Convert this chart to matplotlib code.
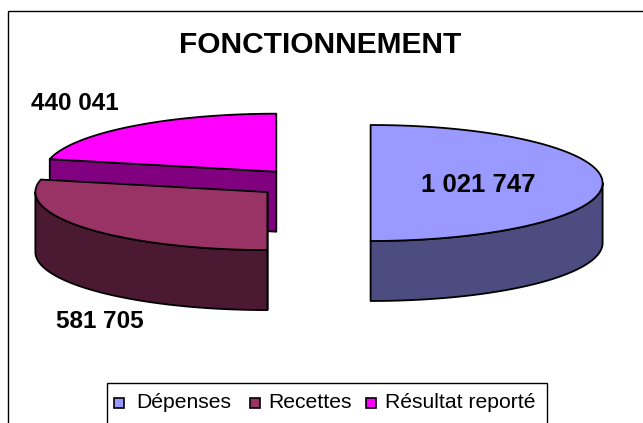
import numpy as np
import matplotlib.pyplot as plt
from matplotlib.patches import Polygon, Rectangle

plt.rcParams['font.family'] = ['Liberation Sans', 'DejaVu Sans']

# data
categories = ["Dépenses", "Recettes", "Résultat reporté"]
values = [1021747, 581705, 440041]
top_colors = ["#9999FF", "#993366", "#FF00FF"]
side_colors = ["#4C4C80", "#4C1933", "#800080"]
title = "FONCTIONNEMENT"

# layout in pixel coordinates
W, H = 643, 423
cx, cy = 312.6, 183.0      # centre of the (unexploded) pie top
a, b = 232.0, 58.0         # ellipse radii
depth = 60.0
explode = 0.25
label_pos = [(478, 185), (100, 322), (75, 103)]
label_size = [18.5, 17.5, 17.5]

fig = plt.figure(figsize=(W / 100, H / 100), dpi=100)
ax = fig.add_axes([0, 0, 1, 1])
ax.set_xlim(0, W)
ax.set_ylim(H, 0)
ax.axis("off")

# chart frame (runs off the right / bottom edge)
ax.add_patch(Rectangle((7.5, 11), 700, 500, fill=False, ec="black", lw=1.0))

ax.text(320, 45, title, ha="center", va="center", fontsize=21.5,
        fontweight="bold")


def pt(x0, y0, t, dz=0.0):
    return (x0 + a * np.cos(t), y0 - b * np.sin(t) + dz)


fr = np.array(values) / sum(values)
ends = 90 - 360 * np.cumsum(fr)
starts = np.concatenate([[90], ends[:-1]])

slices = []
for i in range(len(values)):
    ts, te = np.radians(starts[i]), np.radians(ends[i])
    tm = 0.5 * (ts + te)
    x0 = cx + explode * a * np.cos(tm)
    y0 = cy - explode * b * np.sin(tm)
    slices.append((y0, i, x0, ts, te))

lw = 1.3
for y0, i, x0, ts, te in sorted(slices):
    # visible radial cut faces
    for t, n in ((ts, ts + np.pi / 2), (te, te - np.pi / 2)):
        if np.sin(n) < -1e-6:
            px, py = pt(x0, y0, t)
            poly = [(x0, y0), (px, py), (px, py + depth), (x0, y0 + depth)]
            ax.add_patch(Polygon(poly, closed=True, fc=side_colors[i],
                                 ec="black", lw=lw, joinstyle="round"))
    # outer curved side (front half only)
    for k in (0, -1):
        lo = max(te, -np.pi + 2 * np.pi * k)
        hi = min(ts, 0 + 2 * np.pi * k)
        if hi - lo > 1e-6:
            tt = np.linspace(lo, hi, 80)
            upper = [pt(x0, y0, t) for t in tt]
            lower = [pt(x0, y0, t, depth) for t in tt[::-1]]
            ax.add_patch(Polygon(upper + lower, closed=True,
                                 fc=side_colors[i], ec="black", lw=lw,
                                 joinstyle="round"))
    # top face
    tt = np.linspace(ts, te, 120)
    poly = [(x0, y0)] + [pt(x0, y0, t) for t in tt]
    ax.add_patch(Polygon(poly, closed=True, fc=top_colors[i], ec="black",
                         lw=lw, joinstyle="round"))

for i, v in enumerate(values):
    lx, ly = label_pos[i]
    ax.text(lx, ly, f"{v:,}".replace(",", " "), ha="center", va="center",
            fontsize=label_size[i], fontweight="bold")

# legend (box runs past the bottom edge)
ax.add_patch(Rectangle((107, 383), 440, 80, fill=False, ec="black", lw=1.0))
leg_x = [114, 250, 366]
text_x = [136, 268, 385]
for i, name in enumerate(categories):
    ax.add_patch(Rectangle((leg_x[i], 398), 10, 10, fc=top_colors[i],
                           ec="black", lw=1.2))
    ax.text(text_x[i], 403, name, ha="left", va="center", fontsize=15.2)

fig.savefig("out.png", dpi=100)
